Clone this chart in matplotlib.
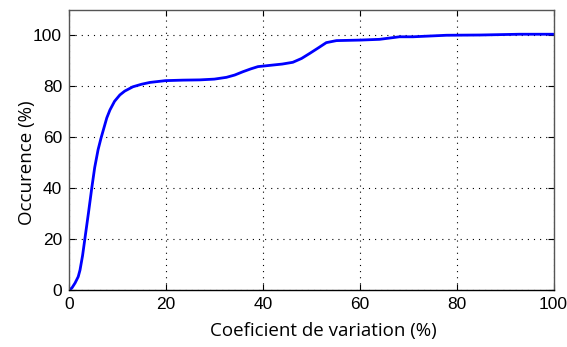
import numpy as np
import matplotlib
matplotlib.use("Agg")
import matplotlib.pyplot as plt

# Cumulative occurrence of the coefficient of variation
cv = [0, 0.6, 1.24, 1.9, 2.27, 2.8, 3.3, 4.0, 4.7, 5.3, 6.0, 6.6, 7.2,
      7.8, 8.45, 9.4, 10.5, 11.5, 13.2, 15.0, 16.7, 19.9, 23.5, 27.0, 30.0,
      32.5, 34.2, 35.9, 37.5, 39.0, 41.0, 44.0, 46.2, 48.0, 49.7, 51.5, 53.1,
      55.2, 60.0, 64.1, 68.2, 71.0, 77.9, 85.0, 93.0, 100.0]
occurrence = [0, 0.8, 2.7, 5.2, 7.8, 13.5, 20.4, 30.0, 40.0, 48.0, 55.0,
              59.5, 63.5, 67.5, 70.6, 74.0, 76.5, 78.0, 79.7, 80.7, 81.4,
              82.1, 82.3, 82.4, 82.7, 83.4, 84.3, 85.6, 86.7, 87.6, 88.0,
              88.6, 89.3, 90.8, 92.8, 95.0, 97.0, 97.8, 98.0, 98.3, 99.3,
              99.3, 99.9, 100.0, 100.3, 100.3]

x_ticks = [0, 20, 40, 60, 80, 100]
y_ticks = [0, 20, 40, 60, 80, 100]

fig = plt.figure(figsize=(5.67, 3.47), dpi=100)
ax = fig.add_axes([69 / 567, 1 - 290 / 347, 484.5 / 567, 280.5 / 347])

ax.plot(cv, occurrence, color="#0000ff", linewidth=2.0,
        solid_joinstyle="round", solid_capstyle="round")

ax.set_xlim(0, 100)
ax.set_ylim(0, 110)
ax.set_xticks(x_ticks)
ax.set_yticks(y_ticks)
ax.tick_params(direction="in", length=4, width=0.8, top=True, right=True,
               labelsize=12.5, pad=5, colors="black")
for lab in ax.get_xticklabels() + ax.get_yticklabels():
    lab.set_family(["Liberation Sans", "DejaVu Sans"])

ax.grid(True, linestyle=(0, (1, 4.5)), color="black", linewidth=0.8)

for side in ["top", "right", "left"]:
    ax.spines[side].set_color("#555555")
ax.spines["bottom"].set_color("black")
for s in ax.spines.values():
    s.set_linewidth(1.0)

ax.set_xlabel("Coeficient de variation (%)", family=["Open Sans", "DejaVu Sans"],
              fontsize=13.5)
ax.set_ylabel("Occurence (%)", family=["Open Sans", "DejaVu Sans"], fontsize=13.5)
ax.xaxis.set_label_coords(0.524, -0.114)
ax.yaxis.set_label_coords(-0.068, 0.4545)

fig.savefig("out.png", dpi=100)
